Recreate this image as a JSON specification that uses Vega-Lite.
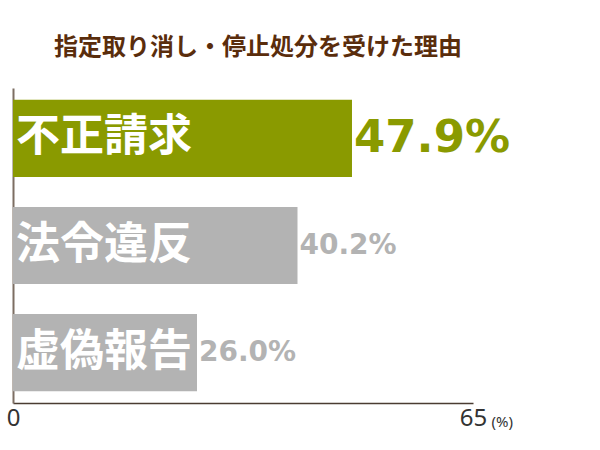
{
  "$schema": "https://vega.github.io/schema/vega-lite/v6.json",
  "width": 460,
  "height": 315,
  "autosize": {"type": "none"},
  "padding": {"left": 13, "top": 88, "right": 127, "bottom": 47},
  "background": "white",
  "title": {
    "text": "指定取り消し・停止処分を受けた理由",
    "font": "Noto Sans CJK JP",
    "fontSize": 24,
    "fontWeight": "bold",
    "color": "#5a2d0c",
    "anchor": "middle",
    "offset": 28,
    "dx": 15
  },
  "config": {"view": {"stroke": null}},
  "data": {
    "values": [
      {"reason": "不正請求", "pct": 47.9, "label": "47.9%"},
      {"reason": "法令違反", "pct": 40.2, "label": "40.2%"},
      {"reason": "虚偽報告", "pct": 26.0, "label": "26.0%"}
    ]
  },
  "encoding": {
    "y": {
      "field": "reason",
      "type": "nominal",
      "sort": null,
      "scale": {"paddingInner": 0.28, "paddingOuter": 0.11},
      "axis": {"labels": false, "ticks": false, "title": null, "domainColor": "#7d6e63", "domainWidth": 2}
    }
  },
  "layer": [
    {
      "mark": {"type": "bar"},
      "encoding": {
        "x": {
          "field": "pct",
          "type": "quantitative",
          "scale": {"domain": [0, 65], "nice": false},
          "axis": {
            "values": [0, 65],
            "grid": false,
            "ticks": false,
            "labelFlush": false,
            "domainColor": "#4a3c32",
            "domainWidth": 1.5,
            "labelFontSize": 24,
            "labelFont": "Noto Sans",
            "labelColor": "#333333",
            "labelPadding": 3,
            "title": "(%)",
            "titleX": 478,
            "titleY": 18,
            "titleAlign": "left",
            "titleBaseline": "middle",
            "titleFont": "Noto Sans",
            "titleFontSize": 15,
            "titleFontWeight": "normal",
            "titleColor": "#333333"
          }
        },
        "color": {
          "field": "reason",
          "type": "nominal",
          "scale": {"domain": ["不正請求", "法令違反", "虚偽報告"], "range": ["#8a9a00", "#b3b3b3", "#b3b3b3"]},
          "legend": null
        }
      }
    },
    {
      "mark": {"type": "text", "align": "left", "baseline": "middle", "dx": 3, "font": "Noto Sans CJK JP", "fontWeight": "bold", "fontSize": 44, "color": "white"},
      "encoding": {
        "x": {"datum": 0, "type": "quantitative"},
        "text": {"field": "reason"}
      }
    },
    {
      "mark": {"type": "text", "align": "left", "baseline": "middle", "dx": 2, "font": "DejaVu Sans", "fontWeight": "bold"},
      "encoding": {
        "x": {"field": "pct", "type": "quantitative"},
        "text": {"field": "label"},
        "size": {"condition": {"test": "datum.reason === '不正請求'", "value": 45}, "value": 28},
        "color": {"condition": {"test": "datum.reason === '不正請求'", "value": "#8a9a00"}, "value": "#b3b3b3"}
      }
    }
  ]
}
